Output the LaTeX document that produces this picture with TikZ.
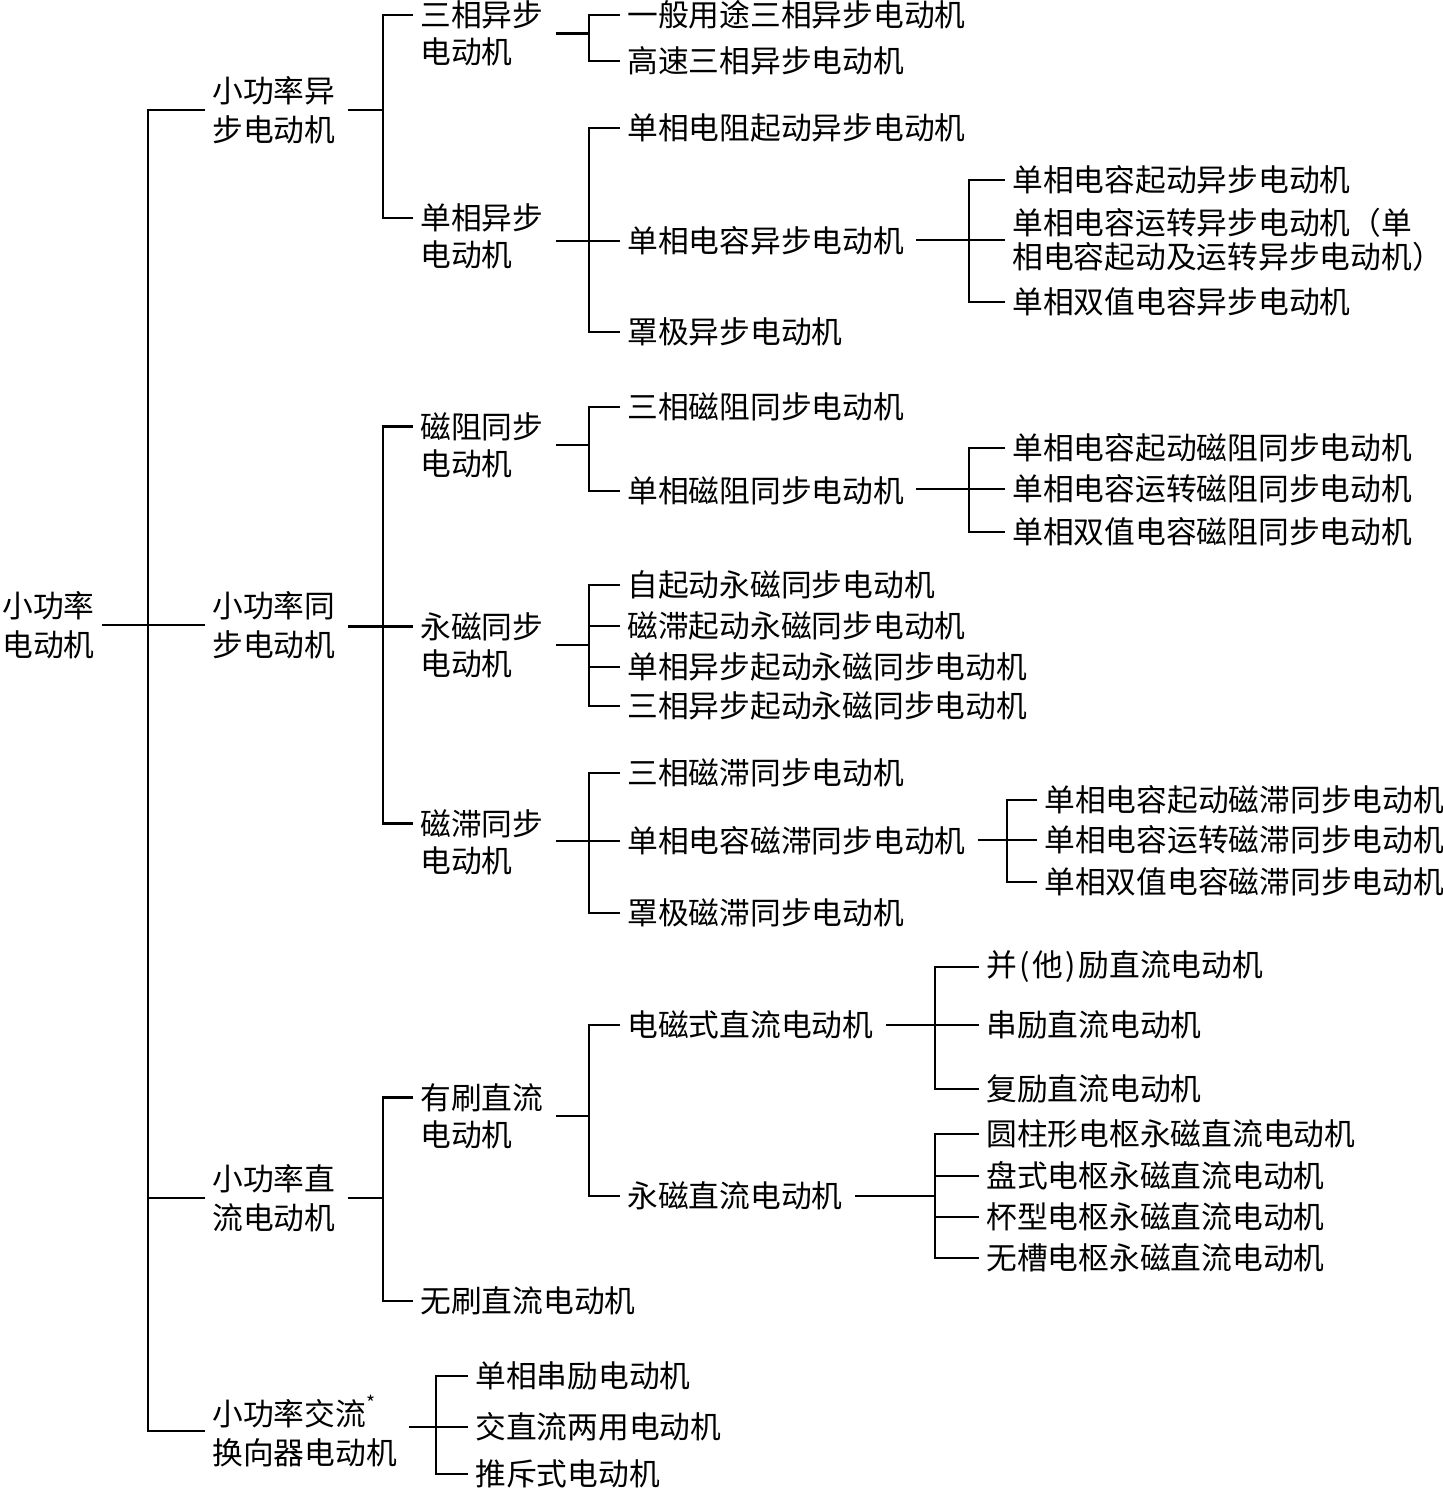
\documentclass[tikz,border=0pt]{standalone}
\usepackage{fontspec}
\setmainfont{Noto Sans CJK SC}

\begin{document}
\begin{tikzpicture}[
    x=0.02cm, y=-0.02cm,
    leaf/.style={anchor=west, inner xsep=4pt, inner ysep=1pt, align=left, font=\fontsize{17.5}{21}\selectfont},
    grp/.style={leaf, font=\fontsize{17.5}{22.5}\selectfont},
    link/.style={line width=1.4pt},
    stem/.style={link, shorten <=1mm}
]
\useasboundingbox (0,0) rectangle (1443,1489);

% Root
\node[grp] (root) at (-5,625) {小功率\\电动机};

% Level 1
\node[grp] (asyn) at (205,110) {小功率异\\步电动机};
\node[grp] (syn) at (205,625) {小功率同\\步电动机};
\node[grp] (dc) at (205,1198) {小功率直\\流电动机};
\node[grp] (comm) at (205,1431) {小功率交流\raisebox{0.9ex}{\fontsize{11}{11}\selectfont *}\\换向器电动机};

% Level 2
\node[leaf] (a3) at (413,33.5) {三相异步\\电动机};
\node[leaf] (a1) at (413,236.5) {单相异步\\电动机};
\node[leaf] (s1) at (413,445) {磁阻同步\\电动机};
\node[leaf] (s2) at (413,645) {永磁同步\\电动机};
\node[leaf] (s3) at (413,842) {磁滞同步\\电动机};
\node[leaf] (d1) at (413,1116) {有刷直流\\电动机};
\node[leaf] (d2) at (413,1301) {无刷直流电动机};
\node[leaf] (c1) at (468,1376) {单相串励电动机};
\node[leaf] (c2) at (468,1427) {交直流两用电动机};
\node[leaf] (c3) at (468,1474) {推斥式电动机};

\coordinate (a3top) at ([yshift=10.5pt]a3.west);
\coordinate (a1top) at ([yshift=10.5pt]a1.west);
\coordinate (s1top) at ([yshift=10.5pt]s1.west);
\coordinate (s2top) at ([yshift=10.5pt]s2.west);
\coordinate (s3top) at ([yshift=10.5pt]s3.west);
\coordinate (d1top) at ([yshift=10.5pt]d1.west);

% Level 3
\node[leaf] (t1) at (620,15) {一般用途三相异步电动机};
\node[leaf] (t2) at (620,61) {高速三相异步电动机};
\node[leaf] (p1) at (620,128) {单相电阻起动异步电动机};
\node[leaf] (p2) at (620,241) {单相电容异步电动机};
\node[leaf] (p3) at (620,332) {罩极异步电动机};
\node[leaf] (r1) at (620,407) {三相磁阻同步电动机};
\node[leaf] (r2) at (620,491) {单相磁阻同步电动机};
\node[leaf] (m1) at (620,585) {自起动永磁同步电动机};
\node[leaf] (m2) at (620,626) {磁滞起动永磁同步电动机};
\node[leaf] (m3) at (620,667) {单相异步起动永磁同步电动机};
\node[leaf] (m4) at (620,706) {三相异步起动永磁同步电动机};
\node[leaf] (h1) at (620,773) {三相磁滞同步电动机};
\node[leaf] (h2) at (620,841) {单相电容磁滞同步电动机};
\node[leaf] (h3) at (620,913) {罩极磁滞同步电动机};
\node[leaf] (e1) at (620,1025) {电磁式直流电动机};
\node[leaf] (e2) at (620,1196) {永磁直流电动机};

% Level 4
\node[leaf] (q1) at (1005,180) {单相电容起动异步电动机};
\node[leaf, font=\fontsize{17.5}{19.5}\selectfont] (q2) at (1005,240) {单相电容运转异步电动机（单\\相电容起动及运转异步电动机）};
\node[leaf] (q3) at (1005,302) {单相双值电容异步电动机};
\node[leaf] (rr1) at (1005,448) {单相电容起动磁阻同步电动机};
\node[leaf] (rr2) at (1005,489) {单相电容运转磁阻同步电动机};
\node[leaf] (rr3) at (1005,532) {单相双值电容磁阻同步电动机};
\node[leaf] (hh1) at (1037,800) {单相电容起动磁滞同步电动机};
\node[leaf] (hh2) at (1037,840) {单相电容运转磁滞同步电动机};
\node[leaf] (hh3) at (1037,882) {单相双值电容磁滞同步电动机};
\node[leaf] (ee1) at (979,967) {并\makebox[0.5em]{(}他\makebox[0.5em]{)}励直流电动机};
\node[leaf] (ee2) at (979,1025) {串励直流电动机};
\node[leaf] (ee3) at (979,1089) {复励直流电动机};
\node[leaf] (pm1) at (979,1134) {圆柱形电枢永磁直流电动机};
\node[leaf] (pm2) at (979,1176) {盘式电枢永磁直流电动机};
\node[leaf] (pm3) at (979,1217) {杯型电枢永磁直流电动机};
\node[leaf] (pm4) at (979,1258) {无槽电枢永磁直流电动机};

% Trunk
\coordinate (jroot) at (148,625);
\draw[link] (root.east) -- (syn.west);
\draw[link] (asyn.west) -| (jroot) |- (comm.west);
\draw[link] (jroot |- dc.west) -- (dc.west);

% 小功率异步
\coordinate (jasyn) at (383,110);
\draw[stem] (asyn.east) -- (asyn.east -| jasyn);
\draw[link] (a3top) -| (jasyn) |- (a1top);

\coordinate (ja3) at (589,36);
\draw[stem] (a3.east) -- (a3.east -| ja3);
\draw[link] (t1.west) -| (ja3) |- (t2.west);

\coordinate (ja1) at (589,241);
\draw[stem] (a1.east |- p2.west) -- (p2.west);
\draw[link] (p1.west) -| (ja1) |- (p3.west);

\coordinate (jp2) at (969,241);
\draw[stem] (p2.east |- q2.west) -- (q2.west);
\draw[link] (q1.west) -| (jp2) |- (q3.west);

% 小功率同步
\coordinate (jsyn) at (383,626);
\draw[stem] (syn.east |- s2top) -- (s2top);
\draw[link] (s1top) -| (jsyn) |- (s3top);

\coordinate (js1) at (589,445);
\draw[stem] (s1.east) -- (s1.east -| js1);
\draw[link] (r1.west) -| (js1) |- (r2.west);

\coordinate (jr2) at (969,489);
\draw[stem] (r2.east |- rr2.west) -- (rr2.west);
\draw[link] (rr1.west) -| (jr2) |- (rr3.west);

\coordinate (js2) at (589,645);
\draw[stem] (s2.east) -- (s2.east -| js2);
\draw[link] (m1.west) -| (js2) |- (m4.west);
\draw[link] (js2 |- m2.west) -- (m2.west);
\draw[link] (js2 |- m3.west) -- (m3.west);

\coordinate (js3) at (589,842);
\draw[stem] (s3.east |- h2.west) -- (h2.west);
\draw[link] (h1.west) -| (js3) |- (h3.west);

\coordinate (jh2) at (1007,840);
\draw[stem] (h2.east |- hh2.west) -- (hh2.west);
\draw[link] (hh1.west) -| (jh2) |- (hh3.west);

% 小功率直流
\coordinate (jdc) at (383,1198);
\draw[stem] (dc.east) -- (dc.east -| jdc);
\draw[link] (d1top) -| (jdc) |- (d2.west);

\coordinate (jd1) at (589,1116);
\draw[stem] (d1.east) -- (d1.east -| jd1);
\draw[link] (e1.west) -| (jd1) |- (e2.west);

\coordinate (je1) at (935,1025);
\draw[stem] (e1.east |- ee2.west) -- (ee2.west);
\draw[link] (ee1.west) -| (je1) |- (ee3.west);

\coordinate (je2) at (935,1196);
\draw[stem] (e2.east) -- (e2.east -| je2);
\draw[link] (pm1.west) -| (je2) |- (pm4.west);
\draw[link] (je2 |- pm2.west) -- (pm2.west);
\draw[link] (je2 |- pm3.west) -- (pm3.west);

% 换向器电动机
\coordinate (jcomm) at (436,1427);
\draw[stem] (comm.east |- c2.west) -- (c2.west);
\draw[link] (c1.west) -| (jcomm) |- (c3.west);

\end{tikzpicture}
\end{document}
